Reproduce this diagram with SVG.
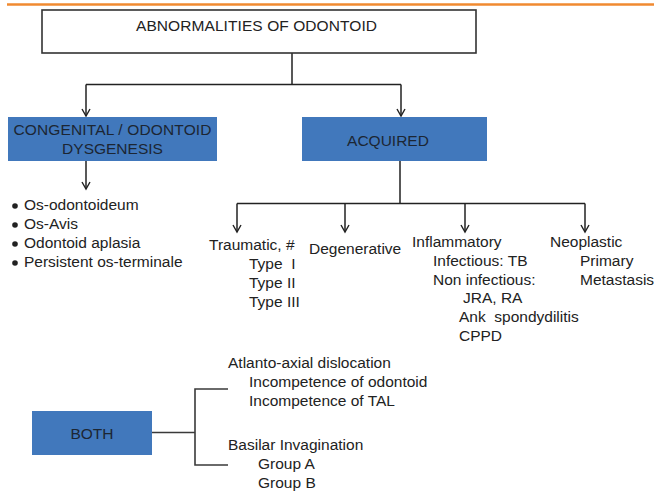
<svg xmlns="http://www.w3.org/2000/svg" width="654" height="492" viewBox="0 0 654 492">
<style>
  .t{font-family:"Liberation Sans",Arial,sans-serif;font-size:15.5px;fill:#222}
  .bt{font-family:"Liberation Sans",Arial,sans-serif;font-size:15.5px;fill:#1c2633}
  .blue{fill:#4178BC}
  .ln{stroke:#222;stroke-width:1.5;fill:none}
  .br{stroke:#3a3a3a;stroke-width:1.6;fill:none}
  .dot{fill:#222}
</style>
<defs>
  <marker id="arr" markerUnits="userSpaceOnUse" markerWidth="12" markerHeight="12" refX="0" refY="0" orient="auto" overflow="visible">
    <path d="M-7,-4 L0,0 L-7,4" fill="none" stroke="#222" stroke-width="1.4"/>
  </marker>
</defs>
<rect width="654" height="492" fill="#fff"/>
<line x1="7" y1="4.5" x2="654" y2="4.5" stroke="#F08A30" stroke-width="2.5"/>

<g id="connectors">
  <path class="ln" d="M292,53 V84.5 M86,84.5 H401"/>
  <line class="ln" x1="86" y1="84.5" x2="86" y2="116" marker-end="url(#arr)"/>
  <line class="ln" x1="401" y1="84.5" x2="401" y2="116" marker-end="url(#arr)"/>
  <line class="ln" x1="86" y1="161" x2="86" y2="189" marker-end="url(#arr)"/>
  <path class="ln" d="M400,161 V203.5 M237,203.5 H585"/>
  <line class="ln" x1="237" y1="203.5" x2="237" y2="232" marker-end="url(#arr)"/>
  <line class="ln" x1="345" y1="203.5" x2="345" y2="232" marker-end="url(#arr)"/>
  <line class="ln" x1="465" y1="203.5" x2="465" y2="232" marker-end="url(#arr)"/>
  <line class="ln" x1="585" y1="203.5" x2="585" y2="232" marker-end="url(#arr)"/>
  <path class="br" d="M152,432.5 H195 M228,389 H195 V465 H228"/>
</g>

<g id="root">
  <rect x="42" y="10" width="434" height="43" fill="#fff" stroke="#333" stroke-width="1.6"/>
  <text class="t" x="136" y="30.5" textLength="241">ABNORMALITIES OF ODONTOID</text>
</g>

<g id="congenital">
  <rect class="blue" x="8" y="117" width="209" height="44"/>
  <text class="bt" x="112.5" y="135" text-anchor="middle" textLength="198">CONGENITAL / ODONTOID</text>
  <text class="bt" x="112.5" y="153.5" text-anchor="middle">DYSGENESIS</text>
</g>

<g id="congenital-list">
  <circle class="dot" cx="15" cy="206" r="2.8"/>
  <circle class="dot" cx="15" cy="225" r="2.8"/>
  <circle class="dot" cx="15" cy="244" r="2.8"/>
  <circle class="dot" cx="15" cy="263" r="2.8"/>
  <text class="t" x="24" y="210">Os-odontoideum</text>
  <text class="t" x="24" y="229">Os-Avis</text>
  <text class="t" x="24" y="248">Odontoid aplasia</text>
  <text class="t" x="24" y="267">Persistent os-terminale</text>
</g>

<g id="acquired">
  <rect class="blue" x="302" y="117" width="185" height="44"/>
  <text class="bt" x="388" y="146" text-anchor="middle">ACQUIRED</text>
</g>

<g id="traumatic">
  <text class="t" x="209" y="249.5">Traumatic, #</text>
  <text class="t" x="249" y="268.5" xml:space="preserve">Type  I</text>
  <text class="t" x="249" y="287.5">Type II</text>
  <text class="t" x="249" y="306.5">Type III</text>
</g>

<g id="degenerative">
  <text class="t" x="309" y="253.5">Degenerative</text>
</g>

<g id="inflammatory">
  <text class="t" x="412" y="246.5">Inflammatory</text>
  <text class="t" x="433" y="265.5">Infectious: TB</text>
  <text class="t" x="433" y="284.5">Non infectious:</text>
  <text class="t" x="463" y="303">JRA, RA</text>
  <text class="t" x="459" y="321.5" xml:space="preserve">Ank  spondydilitis</text>
  <text class="t" x="459" y="340.5">CPPD</text>
</g>

<g id="neoplastic">
  <text class="t" x="550" y="246.5">Neoplastic</text>
  <text class="t" x="580" y="265.5">Primary</text>
  <text class="t" x="580" y="284.5">Metastasis</text>
</g>

<g id="both">
  <rect class="blue" x="32" y="411" width="120" height="44"/>
  <text class="bt" x="92" y="438.5" text-anchor="middle">BOTH</text>
</g>

<g id="aad">
  <text class="t" x="228" y="368">Atlanto-axial dislocation</text>
  <text class="t" x="249" y="387">Incompetence of odontoid</text>
  <text class="t" x="249" y="406">Incompetence of TAL</text>
</g>

<g id="bi">
  <text class="t" x="228" y="450">Basilar Invagination</text>
  <text class="t" x="258" y="469">Group A</text>
  <text class="t" x="258" y="488">Group B</text>
</g>
</svg>
